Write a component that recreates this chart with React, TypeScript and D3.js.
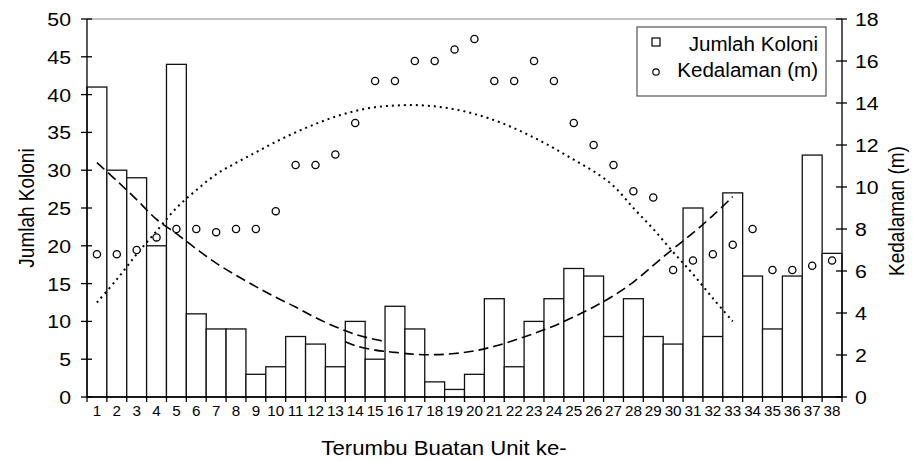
import { useEffect, useRef } from "react"
import * as d3 from "d3"

// Terumbu buatan unit ke-1..38
const units = d3.range(1, 39)

// Jumlah koloni per unit (bars, left axis)
const jumlahKoloni = [41, 30, 29, 20, 44, 11, 9, 9, 3, 4, 8, 7, 4, 10, 5, 12, 9, 2, 1, 3,
  13, 4, 10, 13, 17, 16, 8, 13, 8, 7, 25, 8, 27, 16, 9, 16, 32, 19]

// Kedalaman (m) per unit (circles, right axis)
const kedalaman = [6.8, 6.8, 7.0, 7.6, 8.0, 8.0, 7.85, 8.0, 8.0, 8.85, 11.05, 11.05, 11.55, 13.05,
  15.05, 15.05, 16.0, 16.0, 16.55, 17.05, 15.05, 15.05, 16.0, 15.05, 13.05, 12.0, 11.05, 9.8,
  9.5, 6.05, 6.5, 6.8, 7.25, 8.0, 6.05, 6.05, 6.25, 6.5]

// trend lines: [unit, value]
const trendKoloniA: [number, number][] = [[1, 31.0], [2, 28.6], [3, 26.1], [4, 23.5], [5, 21.6],
  [6, 19.6], [7, 17.7], [8, 16.1], [9, 14.6], [10, 13.2], [11, 11.9], [12, 10.5], [13, 9.3],
  [14, 8.3], [15, 7.6], [15.4, 7.4]]
const trendKoloniB: [number, number][] = [[13.5, 7.3], [14, 6.8], [15, 6.2], [16, 5.9], [17, 5.65],
  [18, 5.6], [19, 5.75], [20, 6.1], [21, 6.7], [22, 7.5], [23, 8.4], [24, 9.4], [25, 10.6],
  [26, 11.9], [27, 13.4], [28, 15.2], [29, 17.4], [30, 19.6], [31, 21.7], [32, 24.0], [33, 26.5]]
const trendKedalaman: [number, number][] = [[1, 4.5], [2, 5.6], [3, 6.8], [4, 7.9], [5, 9.0],
  [6, 9.85], [7, 10.6], [8, 11.15], [9, 11.65], [10, 12.15], [11, 12.6], [12, 13.0], [13, 13.35],
  [14, 13.62], [15, 13.8], [16, 13.88], [17, 13.9], [18, 13.84], [19, 13.7], [20, 13.48],
  [21, 13.18], [22, 12.8], [23, 12.35], [24, 11.85], [25, 11.3], [26, 10.75], [27, 10.05],
  [28, 9.0], [29, 8.0], [30, 6.9], [31, 5.85], [32, 4.7], [33, 3.6]]

const leftTicks = d3.range(0, 51, 5)
const rightTicks = d3.range(0, 19, 2)

const width = 913
const height = 461
const margin = { top: 19, right: 71, bottom: 64, left: 87 }
const font = "'Liberation Sans', Arial, sans-serif"

const App = () => {
  const svgRef = useRef<SVGSVGElement>(null)

  useEffect(() => {
    const svg = d3.select(svgRef.current)
    svg.selectAll("*").remove()

    const x0 = margin.left
    const x1 = width - margin.right
    const y0 = height - margin.bottom
    const y1 = margin.top

    const x = d3.scaleBand<number>().domain(units).range([x0, x1]).padding(0)
    const xu = d3.scaleLinear().domain([0.5, 38.5]).range([x0, x1])
    const yL = d3.scaleLinear().domain([0, 50]).range([y0, y1])
    const yR = d3.scaleLinear().domain([0, 18]).range([y0, y1])

    // the original text looks stretched sideways, hence the scale(sx,1)
    const text = (g: any, tx: number, ty: number, s: string, size: number, anchor = "middle", sx = 1.12, rot = 0) =>
      g.append("text")
        .attr("transform", `translate(${tx},${ty}) scale(${sx},1)${rot ? ` rotate(${rot})` : ""}`)
        .attr("text-anchor", anchor)
        .attr("font-family", font)
        .attr("font-size", size)
        .attr("fill", "#000")
        .text(s)

    // top border
    svg.append("line")
      .attr("x1", x0).attr("x2", x1).attr("y1", y1).attr("y2", y1)
      .attr("stroke", "#888").attr("stroke-width", 1)

    // bars
    svg.append("g")
      .selectAll("rect")
      .data(units)
      .join("rect")
        .attr("x", d => x(d)!)
        .attr("y", (d, i) => yL(jumlahKoloni[i]))
        .attr("width", x.bandwidth())
        .attr("height", (d, i) => y0 - yL(jumlahKoloni[i]))
        .attr("fill", "#fff")
        .attr("stroke", "#111")
        .attr("stroke-width", 1.3)

    // axes lines
    const axes = svg.append("g").attr("stroke", "#000").attr("stroke-width", 1.3)
    axes.append("line").attr("x1", x0).attr("x2", x0).attr("y1", y1).attr("y2", y0)
    axes.append("line").attr("x1", x1).attr("x2", x1).attr("y1", y1).attr("y2", y0)
    axes.append("line").attr("x1", x0).attr("x2", x1).attr("y1", y0).attr("y2", y0)

    // left ticks
    const gl = svg.append("g")
    gl.selectAll("line").data(leftTicks).join("line")
      .attr("x1", x0 - 6).attr("x2", x0 + 5)
      .attr("y1", d => yL(d)).attr("y2", d => yL(d))
      .attr("stroke", "#000").attr("stroke-width", 1.3)
    leftTicks.forEach(t => text(gl, 71, yL(t) + 7, String(t), 19, "end"))

    // right ticks
    const gr = svg.append("g")
    gr.selectAll("line").data(rightTicks).join("line")
      .attr("x1", x1 - 6).attr("x2", x1 + 5)
      .attr("y1", d => yR(d)).attr("y2", d => yR(d))
      .attr("stroke", "#000").attr("stroke-width", 1.3)
    rightTicks.forEach(t => text(gr, 855, yR(t) + 7, String(t), 19, "start"))

    // bottom ticks at bar edges, labels at bar centres
    const gb = svg.append("g")
    gb.selectAll("line").data(d3.range(0, 39)).join("line")
      .attr("x1", d => x0 + d * x.bandwidth()).attr("x2", d => x0 + d * x.bandwidth())
      .attr("y1", y0).attr("y2", y0 + 5)
      .attr("stroke", "#000").attr("stroke-width", 1.3)
    units.forEach(u => text(gb, x(u)! + x.bandwidth() / 2, 415.5, String(u), 14.5, "middle", 1.05))

    // trend lines
    const lineL = d3.line<[number, number]>().x(d => xu(d[0])).y(d => yL(d[1])).curve(d3.curveCatmullRom)
    const lineR = d3.line<[number, number]>().x(d => xu(d[0])).y(d => yR(d[1])).curve(d3.curveCatmullRom)
    svg.append("path").attr("d", lineL(trendKoloniA)!)
      .attr("fill", "none").attr("stroke", "#000").attr("stroke-width", 1.6).attr("stroke-dasharray", "10,5")
    svg.append("path").attr("d", lineL(trendKoloniB)!)
      .attr("fill", "none").attr("stroke", "#000").attr("stroke-width", 1.6).attr("stroke-dasharray", "10,5")
    svg.append("path").attr("d", lineR(trendKedalaman)!)
      .attr("fill", "none").attr("stroke", "#000").attr("stroke-width", 2).attr("stroke-dasharray", "2,4")

    // depth points
    svg.append("g")
      .selectAll("circle")
      .data(units)
      .join("circle")
        .attr("cx", d => xu(d))
        .attr("cy", (d, i) => yR(kedalaman[i]))
        .attr("r", 3.6)
        .attr("fill", "#fff")
        .attr("stroke", "#000")
        .attr("stroke-width", 1.3)

    // axis titles
    text(svg, 444, 455, "Terumbu Buatan Unit ke-", 20, "middle", 1.11)
    text(svg, 34, (y0 + y1) / 2, "Jumlah Koloni", 19, "middle", 1.15, -90)
    text(svg, 904, (y0 + y1) / 2 + 3, "Kedalaman (m)", 19, "middle", 1.15, -90)

    // legend
    const lg = svg.append("g")
    lg.append("rect").attr("x", 637).attr("y", 27).attr("width", 189).attr("height", 69)
      .attr("fill", "#fff").attr("stroke", "#555").attr("stroke-width", 1.2)
    lg.append("rect").attr("x", 652).attr("y", 38).attr("width", 8).attr("height", 8)
      .attr("fill", "#fff").attr("stroke", "#000").attr("stroke-width", 1.2)
    lg.append("circle").attr("cx", 656).attr("cy", 72).attr("r", 3.2)
      .attr("fill", "#fff").attr("stroke", "#000").attr("stroke-width", 1.2)
    text(lg, 818, 51, "Jumlah Koloni", 20, "end", 1.03)
    text(lg, 818, 77, "Kedalaman (m)", 20, "end", 1.03)
  }, [])

  return (
    <svg
      ref={svgRef}
      width={width}
      height={height}
      style={{ position: "absolute", left: 0, top: 0, background: "#fff" }}
    />
  )
}

export default App
